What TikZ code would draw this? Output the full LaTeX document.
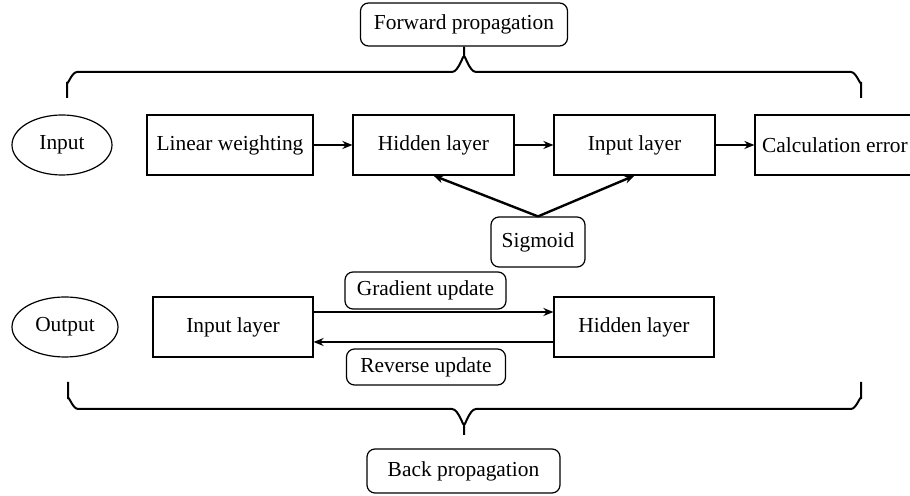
\documentclass[tikz,border=0pt]{standalone}
\usepackage{fontspec}
\setmainfont{Liberation Serif}
\usetikzlibrary{arrows.meta,shapes.geometric}

\begin{document}
\begin{tikzpicture}[x=0.5pt, y=-0.5pt,
    every node/.style={font=\fontsize{10.7}{13}\selectfont, inner sep=0pt},
    box/.style={draw, line width=0.6pt, minimum height=30pt},
    rbox/.style={draw, line width=0.6pt, rounded corners=4pt},
    oval/.style={draw, ellipse, line width=0.6pt},
    arr/.style={line width=1.2pt, -{Stealth[length=5pt,width=4pt]}},
    brace/.style={line width=1pt}]
    \useasboundingbox (0,0) rectangle (910,496);

    \node[rbox, minimum width=103.5pt, minimum height=21.5pt] (fwd) at (464,24.5) {Forward propagation};

    \node[oval, minimum width=50pt, minimum height=30pt] (in) at (62,145) {Input};
    \node[box, minimum width=83pt]   (lin) at (230,145)   {Linear weighting};
    \node[box, minimum width=80.5pt] (hid) at (433.5,145) {Hidden layer};
    \node[box, minimum width=80.5pt] (inp) at (634.5,145) {Input layer};
    \node[box, minimum width=80pt]   (err) at (835,145)   {Calculation error};

    \node[rbox, minimum width=47pt, minimum height=25pt] (sig) at (538,242) {Sigmoid};

    \node[rbox, minimum width=80.5pt, minimum height=18.5pt] (grad) at (425.5,290.5) {Gradient update};
    \node[oval, minimum width=53pt, minimum height=30pt] (out) at (65,327) {Output};
    \node[box, minimum width=80pt] (inl) at (233,327) {Input layer};
    \node[box, minimum width=80pt] (hdl) at (634,327) {Hidden layer};
    \node[rbox, minimum width=79.5pt, minimum height=18pt] (rev) at (426,367) {Reverse update};

    \node[rbox, minimum width=96.5pt, minimum height=22pt] (back) at (463.5,471) {Back propagation};

    \draw[arr] (lin) -- (hid);
    \draw[arr] (hid) -- (inp);
    \draw[arr] (inp) -- (err);
    \draw[arr] (sig.north) -- (hid.south);
    \draw[arr] (sig.north) -- (inp.south);
    \draw[arr] ([yshift=7.5pt]inl.east) -- ([yshift=7.5pt]hdl.west);
    \draw[arr] ([yshift=-7.5pt]hdl.west) -- ([yshift=-7.5pt]inl.east);

    \draw[brace] (67,98) -- (67,82) to[out=-90,in=180] (77,72) -- (452,72)
        to[out=0,in=90] (fwd.south |- 0,58) -- (fwd.south);
    \draw[brace] (861,98) -- (861,82) to[out=-90,in=0] (851,72) -- (476,72)
        to[out=180,in=90] (fwd.south |- 0,58);
    \draw[brace] (68,382) -- (68,399) to[out=90,in=180] (78,409) -- (452,409)
        to[out=0,in=-90] (464,423) -- (464,435);
    \draw[brace] (861,382) -- (861,399) to[out=90,in=0] (851,409) -- (476,409)
        to[out=180,in=-90] (464,423);
\end{tikzpicture}
\end{document}
